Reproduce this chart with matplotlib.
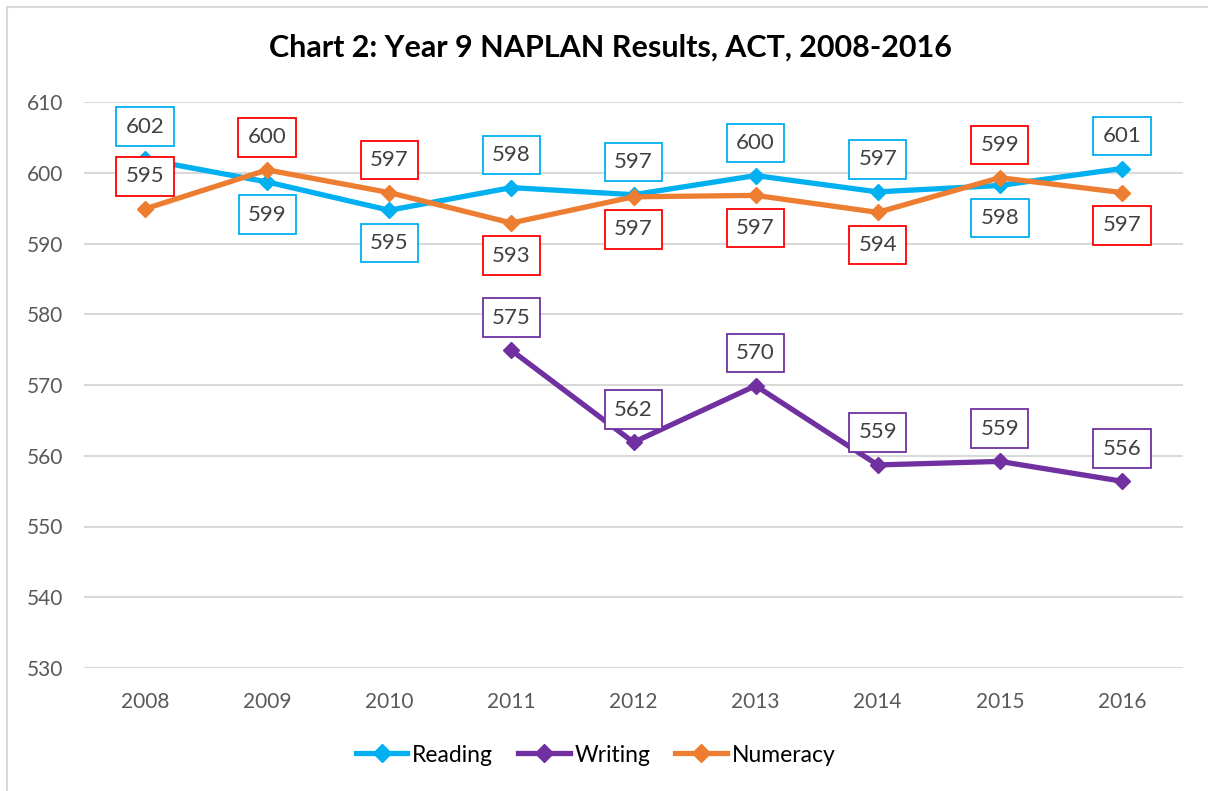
import matplotlib
matplotlib.use('Agg')
import matplotlib.pyplot as plt
import numpy as np
from matplotlib.lines import Line2D

years = ['2008', '2009', '2010', '2011', '2012', '2013', '2014', '2015', '2016']
reading = [601.9, 598.7, 594.7, 597.9, 596.9, 599.6, 597.3, 598.2, 600.6]
writing = [np.nan, np.nan, np.nan, 574.9, 561.9, 569.9, 558.7, 559.2, 556.4]
numeracy = [594.9, 600.4, 597.2, 592.9, 596.6, 596.8, 594.4, 599.3, 597.2]

# where each data label sits relative to its point (1 = above, -1 = below)
reading_side = [1, -1, -1, 1, 1, 1, 1, -1, 1]
writing_side = [1, 1, 1, 1, 1, 1, 1, 1, 1]
numeracy_side = [1, 1, 1, -1, -1, -1, -1, 1, -1]

plt.rcParams['font.family'] = ['Lato', 'DejaVu Sans']

fig = plt.figure(figsize=(12.08, 7.91), dpi=100)
ax = fig.add_axes([84/1208, 1 - 668/791, (1183-84)/1208, (668-102)/791])

x = np.arange(len(years))
series = [
    ('Reading', reading, reading_side, '#00B0F0', '#00B0F0'),
    ('Writing', writing, writing_side, '#7030A0', '#7030A0'),
    ('Numeracy', numeracy, numeracy_side, '#ED7D31', '#FF0000'),
]

handles = []
for name, vals, side, col, boxcol in series:
    ax.plot(x, vals, color=col, lw=3.8, marker='D', ms=8, zorder=3)
    handles.append(Line2D([0], [0], color=col, lw=3.8, marker='D', ms=9))
    for xi, v, s in zip(x, vals, side):
        if np.isnan(v):
            continue
        ax.annotate('%.0f' % v, (xi, v), xytext=(0, 23.5 * s),
                    textcoords='offset points', ha='center', va='center',
                    fontsize=16, color='#404040', zorder=4,
                    bbox=dict(boxstyle='square,pad=0.42', fc='white',
                              ec=boxcol, lw=1.3))

ax.set_xlim(-0.5, len(years) - 0.5)
ax.set_ylim(530, 610)
ax.set_yticks(np.arange(530, 611, 10))
ax.set_xticks(x)
ax.set_xticklabels(years)
ax.grid(axis='y', color='#D9D9D9', lw=1.5)
ax.set_axisbelow(True)
for sp in ax.spines.values():
    sp.set_visible(False)
ax.tick_params(length=0, labelsize=15, labelcolor='#595959')
ax.tick_params(axis='x', pad=17)
ax.tick_params(axis='y', pad=15)

fig.text(0.505, 1 - 48/791, 'Chart 2: Year 9 NAPLAN Results, ACT, 2008-2016',
         ha='center', va='center', fontsize=22, fontweight='bold')

fig.legend(handles, ['Reading', 'Writing', 'Numeracy'], loc='center',
           bbox_to_anchor=(0.493, 1 - 755/791), ncol=3, frameon=False,
           fontsize=16.5, handlelength=2.25, handletextpad=0.2, columnspacing=1.1)

# chart border
fig.add_artist(Line2D([7/1208, 1], [1 - 7/791, 1 - 7/791], color='#D9D9D9', lw=1.5))
fig.add_artist(Line2D([7/1208, 7/1208], [0, 1 - 7/791], color='#D9D9D9', lw=1.5))

fig.savefig('out.png', dpi=100)
